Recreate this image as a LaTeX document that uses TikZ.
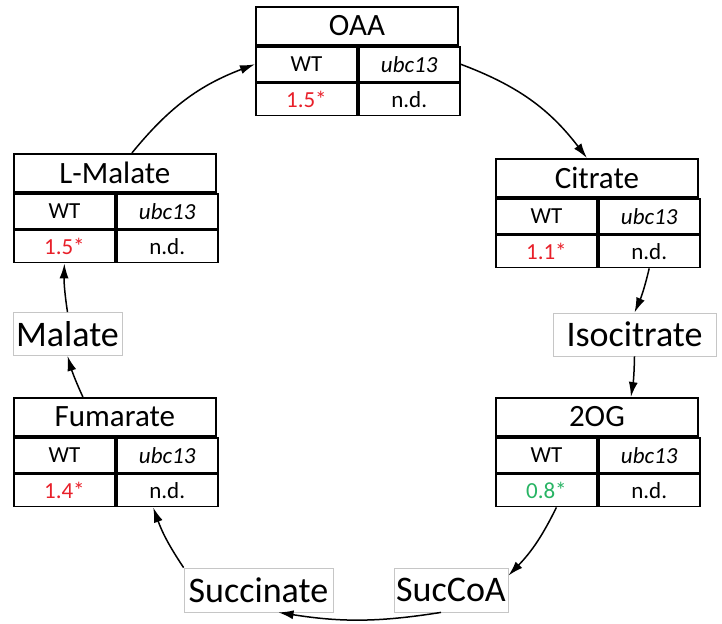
\documentclass[tikz,border=0pt]{standalone}
\usepackage{fontspec}
\setmainfont{Carlito}
\usetikzlibrary{arrows.meta}
\definecolor{upred}{RGB}{232,32,42}
\definecolor{downgreen}{RGB}{40,180,100}
\begin{document}
\begin{tikzpicture}[x=0.5pt, y=0.5pt,
    hdr/.style={draw, line width=0.9pt, minimum width=101pt, minimum height=19pt, inner sep=0pt, anchor=north west, font=\fontsize{15.5}{18}\selectfont},
    cell/.style={draw, line width=0.9pt, minimum width=50.5pt, minimum height=17.5pt, inner sep=0pt, anchor=north west, font=\fontsize{11.5}{13}\selectfont},
    valcell/.style={cell, minimum height=16pt},
    met/.style={draw=gray!45, line width=0.4pt, minimum height=21.5pt, inner sep=0pt, font=\fontsize{18}{21}\selectfont},
    flow/.style={-{Latex[length=7.5pt,width=4.5pt]}, line width=0.75pt}]
        \useasboundingbox (0,0) rectangle (722,623);

        % tables
        \node[hdr] (oaa) at (255,617) {OAA};
        \node[cell] (oaawt) at (oaa.south west) {WT};
        \node[cell] (oaaubc) at (oaawt.north east) {\textit{ubc13}};
        \node[valcell, text=upred] (oaaval) at (oaawt.south west) {1.5*};
        \node[valcell] (oaand) at (oaaval.north east) {n.d.};

        \node[hdr] (cit) at (495,465) {Citrate};
        \node[cell] (citwt) at (cit.south west) {WT};
        \node[cell] (citubc) at (citwt.north east) {\textit{ubc13}};
        \node[valcell, text=upred] (citval) at (citwt.south west) {1.1*};
        \node[valcell] (citnd) at (citval.north east) {n.d.};

        \node[hdr] (lmal) at (13,470) {L-Malate};
        \node[cell] (lmalwt) at (lmal.south west) {WT};
        \node[cell] (lmalubc) at (lmalwt.north east) {\textit{ubc13}};
        \node[valcell, text=upred] (lmalval) at (lmalwt.south west) {1.5*};
        \node[valcell] (lmalnd) at (lmalval.north east) {n.d.};

        \node[hdr] (fum) at (13,226) {Fumarate};
        \node[cell] (fumwt) at (fum.south west) {WT};
        \node[cell] (fumubc) at (fumwt.north east) {\textit{ubc13}};
        \node[valcell, text=upred] (fumval) at (fumwt.south west) {1.4*};
        \node[valcell] (fumnd) at (fumval.north east) {n.d.};

        \node[hdr] (og) at (495,226) {2OG};
        \node[cell] (ogwt) at (og.south west) {WT};
        \node[cell] (ogubc) at (ogwt.north east) {\textit{ubc13}};
        \node[valcell, text=downgreen] (ogval) at (ogwt.south west) {0.8*};
        \node[valcell] (ognd) at (ogval.north east) {n.d.};

        % plain metabolites
        \node[met, minimum width=54.5pt] (mal) at (67.5,289) {Malate};
        \node[met, minimum width=81.5pt] (iso) at (634.5,288.5) {Isocitrate};
        \node[met, minimum width=74.5pt, minimum height=22pt] (succ) at (258.5,33) {Succinate};
        \node[met, minimum width=57pt, minimum height=22pt] (succoa) at (451,33) {SucCoA};

        % cycle
        \draw[flow] ([xshift=8.5pt]lmal.north) to[bend left=15] (oaawt.west);
        \draw[flow] (oaaubc.east) to[bend left=16] ([xshift=-5pt]cit.north);
        \draw[flow] (citnd.south) to[bend left=5] (iso.north);
        \draw[flow] (iso.south) to[bend left=4] ([xshift=17pt]og.north);
        \draw[flow] ([xshift=5pt]ogval.south) to[bend left=9] ([yshift=-4pt]succoa.north east);
        \draw[flow] ([xshift=-5pt]succoa.south) to[bend left=9] ([xshift=10pt]succ.south);
        \draw[flow] (succ.north west) to[bend left=7] ([xshift=-7pt]fumnd.south);
        \draw[flow] ([xshift=-16pt]fum.north) to[bend left=4] (mal.south);
        \draw[flow] (mal.north) to[bend left=5] (lmalval.south);

    \end{tikzpicture}
\end{document}
